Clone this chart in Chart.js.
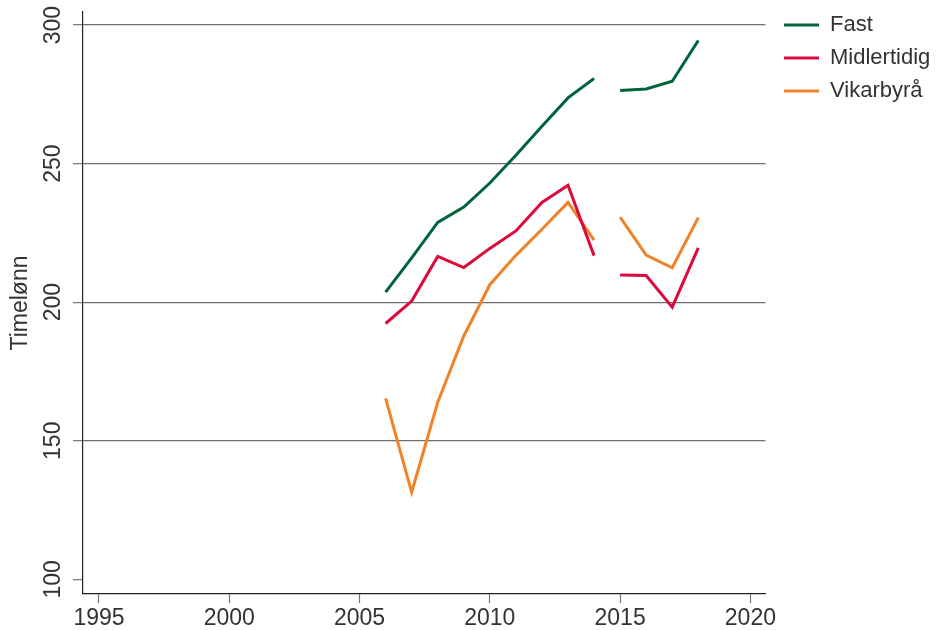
<!DOCTYPE html>
<html>
<head>
<meta charset="utf-8">
<script src="https://cdn.jsdelivr.net/npm/chart.js@4.4.1/dist/chart.umd.min.js"></script>
<style>
html,body{margin:0;padding:0;background:#fff;}
#wrap{width:936px;height:630px;position:relative;}
</style>
</head>
<body>
<div id="wrap"><canvas id="c"></canvas></div>
<script>
const years = [2006, 2007, 2008, 2009, 2010, 2011, 2012, 2013, 2014, 2015, 2016, 2017, 2018];
const fast = [203.6, 216.0, 228.8, 234.3, 243.0, 253.0, 263.5, 273.7, 280.7, 276.4, 276.9, 279.7, 294.4];
const midlertidig = [192.3, 200.4, 216.5, 212.5, 219.4, 225.7, 236.0, 242.2, 216.8, 209.8, 209.6, 198.2, 219.6];
const vikarbyra = [165.3, 131.4, 163.9, 187.8, 206.3, 216.9, 226.3, 236.0, 222.4, 230.7, 217.0, 212.4, 230.5];
const seriesNames = ['Fast', 'Midlertidig', 'Vikarbyrå'];
const breakAfterYear = 2014;
const xTicks = [1995, 2000, 2005, 2010, 2015, 2020];
const yTicks = [100, 150, 200, 250, 300];
const yTitle = 'Timelønn';

const colors = ['#00643a', '#dc0a3c', '#f08228'];
const FONT = '"Liberation Sans", Arial, sans-serif';
const TXT = '#333333';

function pts(vals){ return years.map((y,i)=>({x:y, y:vals[i]})); }

const datasets = [fast, midlertidig, vikarbyra].map((vals,i)=>({
  label: seriesNames[i],
  data: pts(vals),
  borderColor: colors[i],
  backgroundColor: colors[i],
  borderWidth: 3,
  pointRadius: 0,
  pointHoverRadius: 0,
  tension: 0,
  fill: false,
  segment: {
    borderColor: ctx => ctx.p0.parsed.x === breakAfterYear ? 'rgba(0,0,0,0)' : undefined
  }
}));

const legendTweak = {
  id: 'legendTweak',
  beforeInit(chart){
    const lg = chart.legend;
    if (lg && !lg._patched) {
      const orig = lg.fit;
      lg.fit = function(){ orig.call(this); this.width = 170.5; };
      lg._patched = true;
    }
  },
  afterLayout(chart){
    const lg = chart.legend;
    if (lg) { lg.left += 7.5; lg.right += 7.5; lg.top += 3; lg.bottom += 3; }
  }
};

new Chart(document.getElementById('c'), {
  type: 'line',
  data: { datasets },
  plugins: [legendTweak],
  options: {
    responsive: true,
    maintainAspectRatio: false,
    animation: false,
    layout: { padding: { top: 0, left: 0, right: 0, bottom: 0 } },
    plugins: {
      tooltip: { enabled: false },
      legend: {
        position: 'right',
        align: 'start',
        labels: {
          boxWidth: 35,
          boxHeight: 3,
          padding: 11,
          color: TXT,
          font: { family: FONT, size: 22 },
          generateLabels(chart){
            const items = Chart.defaults.plugins.legend.labels.generateLabels(chart);
            items.forEach(it => { it.lineWidth = 0; });
            return items;
          }
        }
      }
    },
    scales: {
      x: {
        type: 'linear',
        min: 1994.386,
        max: 2020.58,
        afterBuildTicks(scale){ scale.ticks = xTicks.map(v=>({value:v})); },
        afterFit(scale){ scale.height = 36; },
        border: { display: true, color: '#222', width: 1.2 },
        grid: { drawOnChartArea: false, drawTicks: true, tickLength: 9, color: '#777', tickWidth: 1.2 },
        ticks: {
          color: TXT, padding: 2, maxRotation: 0, autoSkip: false,
          font: { family: FONT, size: 23 },
          callback: v => String(v)
        }
      },
      y: {
        type: 'linear',
        min: 94.7,
        max: 304.7,
        afterBuildTicks(scale){ scale.ticks = yTicks.map(v=>({value:v})); },
        afterFit(scale){ scale.width = 83; scale.paddingTop = 12; scale.paddingBottom = 0; },
        border: { display: true, color: '#222', width: 1.2 },
        grid: {
          drawTicks: true, tickLength: 10, tickColor: '#777', tickWidth: 1.2,
          lineWidth: 1.3,
          color: ctx => (ctx.tick && ctx.tick.value === yTicks[0]) ? 'rgba(0,0,0,0)' : '#6e6e6e'
        },
        title: {
          display: true, text: yTitle, color: TXT,
          font: { family: FONT, size: 23 },
          padding: { top: 7, bottom: 0 }
        },
        ticks: {
          color: TXT, padding: 0, minRotation: 90, maxRotation: 90, crossAlign: 'center', autoSkip: false,
          font: { family: FONT, size: 23 },
          callback: v => String(v)
        }
      }
    }
  }
});
</script>
</body>
</html>
